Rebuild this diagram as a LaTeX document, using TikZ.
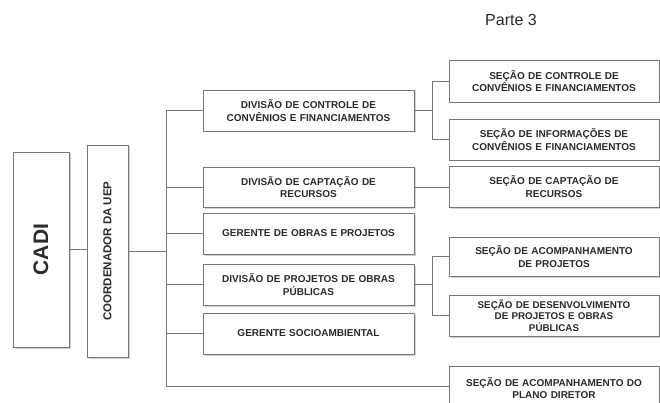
\documentclass[tikz,border=0pt]{standalone}
\usepackage{fontspec}
\setmainfont{Liberation Sans}
\usetikzlibrary{shadows}
\definecolor{linec}{HTML}{777777}
\definecolor{textc}{HTML}{2A2A2A}
\begin{document}
\begin{tikzpicture}[x=1pt,y=-1pt,
  box/.style={draw=linec, line width=0.8pt, fill=white, inner sep=1pt, align=center,
    text=textc, font=\bfseries\fontsize{10}{12.3}\selectfont,
    drop shadow={shadow xshift=1.5pt, shadow yshift=-1.5pt, fill=black!30, opacity=0.6}},
  midbox/.style={box, minimum width=211pt, text width=205pt},
  rbox/.style={box, minimum width=210pt, text width=204pt},
  conn/.style={draw=linec, line width=0.8pt}]
\useasboundingbox (0,0) rectangle (660,403);
\node[font=\fontsize{16}{18}\selectfont, text=textc] (parte) at (511,20) {Parte 3};
% left
\node[box, minimum width=56pt, minimum height=195pt] (cadi) at (41,249.5) {};
\node[rotate=90, font=\bfseries\fontsize{21}{23}\selectfont, text=textc] (cadit) at (cadi.center) {CADI};
\node[box, minimum width=41pt, minimum height=212pt] (coord) at (107.5,251) {};
\node[rotate=90, font=\bfseries\fontsize{11.5}{13}\selectfont, text=textc] (coordt) at (coord.center) {COORDENADOR DA UEP};
% middle
\node[midbox, minimum height=41pt] (dc) at (308.5,110.5) {DIVISÃO DE CONTROLE DE\\CONVÊNIOS E FINANCIAMENTOS};
\node[midbox, minimum height=40pt] (dcap) at (308.5,187) {DIVISÃO DE CAPTAÇÃO DE\\RECURSOS};
\node[midbox, minimum height=41pt] (go) at (308.5,233.5) {GERENTE DE OBRAS E PROJETOS};
\node[midbox, minimum height=41pt] (dp) at (308.5,284.5) {DIVISÃO DE PROJETOS DE OBRAS\\PÚBLICAS};
\node[midbox, minimum height=41pt] (gs) at (308.5,333.5) {GERENTE SOCIOAMBIENTAL};
% right
\node[rbox, minimum height=42pt] (sc) at (554,81) {SEÇÃO DE CONTROLE DE\\CONVÊNIOS E FINANCIAMENTOS};
\node[rbox, minimum height=41pt] (si) at (554,139.5) {SEÇÃO DE INFORMAÇÕES DE\\CONVÊNIOS E FINANCIAMENTOS};
\node[rbox, minimum height=41pt] (scap) at (554,186.5) {SEÇÃO DE CAPTAÇÃO DE\\RECURSOS};
\node[rbox, minimum height=39pt] (sa) at (554,256.5) {SEÇÃO DE ACOMPANHAMENTO\\DE PROJETOS};
\node[rbox, minimum height=41pt, font=\bfseries\fontsize{9.8}{11.6}\selectfont] (sd) at (554,315.5) {SEÇÃO DE DESENVOLVIMENTO\\DE PROJETOS E OBRAS\\PÚBLICAS};
\node[rbox, minimum height=46pt, text depth=14pt] (spd) at (554,389) {SEÇÃO DE ACOMPANHAMENTO DO\\PLANO DIRETOR};
% connectors
\coordinate (t) at (166,0);
\coordinate (f1) at (432,0);
\coordinate (bl) at (166,386);
\draw[conn] (cadi.east) -- (cadi.east -| coord.west);
\draw[conn] (coord.east) -- (coord.east -| t);
\draw[conn] (dc.west -| t) -- (bl) -- (bl -| spd.west);
\foreach \n in {dc,dcap,go,dp,gs} \draw[conn] (\n.west -| t) -- (\n.west);
\draw[conn] (dc.east) -- (dc.east -| f1);
\draw[conn] (sc.west) -- (sc.west -| f1) -- (si.west -| f1) -- (si.west);
\draw[conn] (dcap.east) -- (scap.west |- dcap.east);
\draw[conn] (dp.east) -- (dp.east -| f1);
\draw[conn] (sa.west) -- (sa.west -| f1) -- (sd.west -| f1) -- (sd.west);
\end{tikzpicture}
\end{document}
